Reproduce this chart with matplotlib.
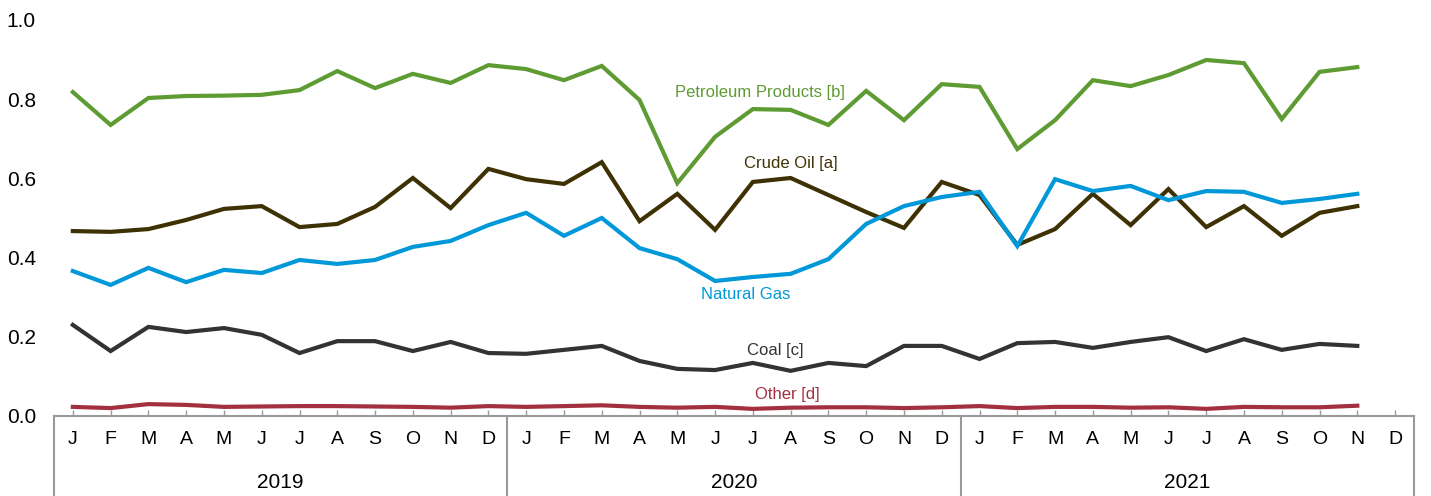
"""
Monthly values by source, Jan 2019 - Nov 2021
"""

import numpy as np
import matplotlib.pyplot as plt
from matplotlib import transforms

plt.rcParams['font.family'] = ['Liberation Sans', 'DejaVu Sans']

years = ['2019', '2020', '2021']
month_letters = ['J', 'F', 'M', 'A', 'M', 'J', 'J', 'A', 'S', 'O', 'N', 'D']

petroleum = [0.818, 0.735, 0.803, 0.808, 0.809, 0.811, 0.823, 0.871, 0.828, 0.864, 0.841, 0.886,
             0.876, 0.848, 0.884, 0.798, 0.588, 0.705, 0.775, 0.773, 0.735, 0.821, 0.747, 0.838,
             0.831, 0.674, 0.747, 0.848, 0.833, 0.861, 0.899, 0.891, 0.750, 0.869, 0.881]
crude_oil = [0.467, 0.465, 0.472, 0.495, 0.523, 0.530, 0.477, 0.485, 0.528, 0.601, 0.525, 0.624,
             0.598, 0.586, 0.641, 0.492, 0.561, 0.470, 0.591, 0.601, 0.558, 0.515, 0.475, 0.591,
             0.558, 0.432, 0.472, 0.561, 0.482, 0.573, 0.477, 0.530, 0.455, 0.513, 0.530]
natural_gas = [0.366, 0.331, 0.374, 0.338, 0.369, 0.361, 0.394, 0.384, 0.394, 0.427, 0.442, 0.482,
               0.513, 0.455, 0.500, 0.424, 0.396, 0.341, 0.351, 0.359, 0.396, 0.485, 0.530, 0.553,
               0.566, 0.429, 0.598, 0.568, 0.581, 0.545, 0.568, 0.566, 0.538, 0.548, 0.561]
coal = [0.230, 0.164, 0.225, 0.212, 0.222, 0.205, 0.159, 0.189, 0.189, 0.164, 0.187, 0.159,
        0.157, 0.167, 0.177, 0.139, 0.119, 0.116, 0.134, 0.114, 0.134, 0.126, 0.177, 0.177,
        0.144, 0.184, 0.187, 0.172, 0.187, 0.199, 0.164, 0.194, 0.167, 0.182, 0.177]
other = [0.023, 0.020, 0.030, 0.028, 0.023, 0.024, 0.025, 0.025, 0.024, 0.023, 0.021, 0.025,
         0.023, 0.025, 0.027, 0.023, 0.021, 0.023, 0.018, 0.021, 0.022, 0.022, 0.020, 0.022,
         0.025, 0.020, 0.023, 0.023, 0.021, 0.022, 0.018, 0.023, 0.022, 0.022, 0.026]

# (values, label, colour, label x in months, label y)
series = [
    (petroleum, 'Petroleum Products [b]', '#5E9B33', 18.2, 0.818),
    (crude_oil, 'Crude Oil [a]', '#3E3104', 19.0, 0.638),
    (natural_gas, 'Natural Gas', '#0098D8', 17.8, 0.307),
    (coal, 'Coal [c]', '#333333', 18.6, 0.165),
    (other, 'Other [d]', '#A3303F', 18.9, 0.055),
]

n_months = len(years) * len(month_letters)
x = np.arange(len(petroleum))

fig = plt.figure(figsize=(14.31, 4.96), dpi=100)
ax = fig.add_axes([0.0377, 0.1613, 0.9504, 0.7984])

for values, label, color, lx, ly in series:
    ax.plot(x, values, color=color, linewidth=3.0, solid_joinstyle='miter')
    ax.text(lx, ly, label, color=color, fontsize=12, ha='center', va='center')

ax.set_xlim(-0.5, n_months - 0.5)
ax.set_ylim(0, 1.0)

# axes frame: only a grey bottom line
for side in ['top', 'right', 'left']:
    ax.spines[side].set_visible(False)
ax.spines['bottom'].set_color('#999999')
ax.spines['bottom'].set_linewidth(1.5)

ax.set_yticks(np.arange(0, 1.01, 0.2))
ax.set_yticklabels([f'{v:.1f}' for v in np.arange(0, 1.01, 0.2)])
ax.tick_params(axis='y', length=0, pad=13, labelsize=15)

ax.set_xticks(np.arange(n_months))
ax.set_xticklabels(month_letters * len(years))
ax.tick_params(axis='x', direction='in', length=4, width=1, color='#999999',
               pad=11, labelsize=14)

# year groups below the month letters
trans = transforms.blended_transform_factory(ax.transData, ax.transAxes)
for i, year in enumerate(years):
    left = i * 12 - 0.5
    ax.plot([left, left], [0, -0.21], color='#999999', linewidth=1.5,
            transform=trans, clip_on=False)
    ax.text(left + 6, -0.169, year, transform=trans, ha='center', va='center', fontsize=15)
ax.plot([n_months - 0.5] * 2, [0, -0.21], color='#999999', linewidth=1.5,
        transform=trans, clip_on=False)

plt.savefig('out.png', dpi=100)
